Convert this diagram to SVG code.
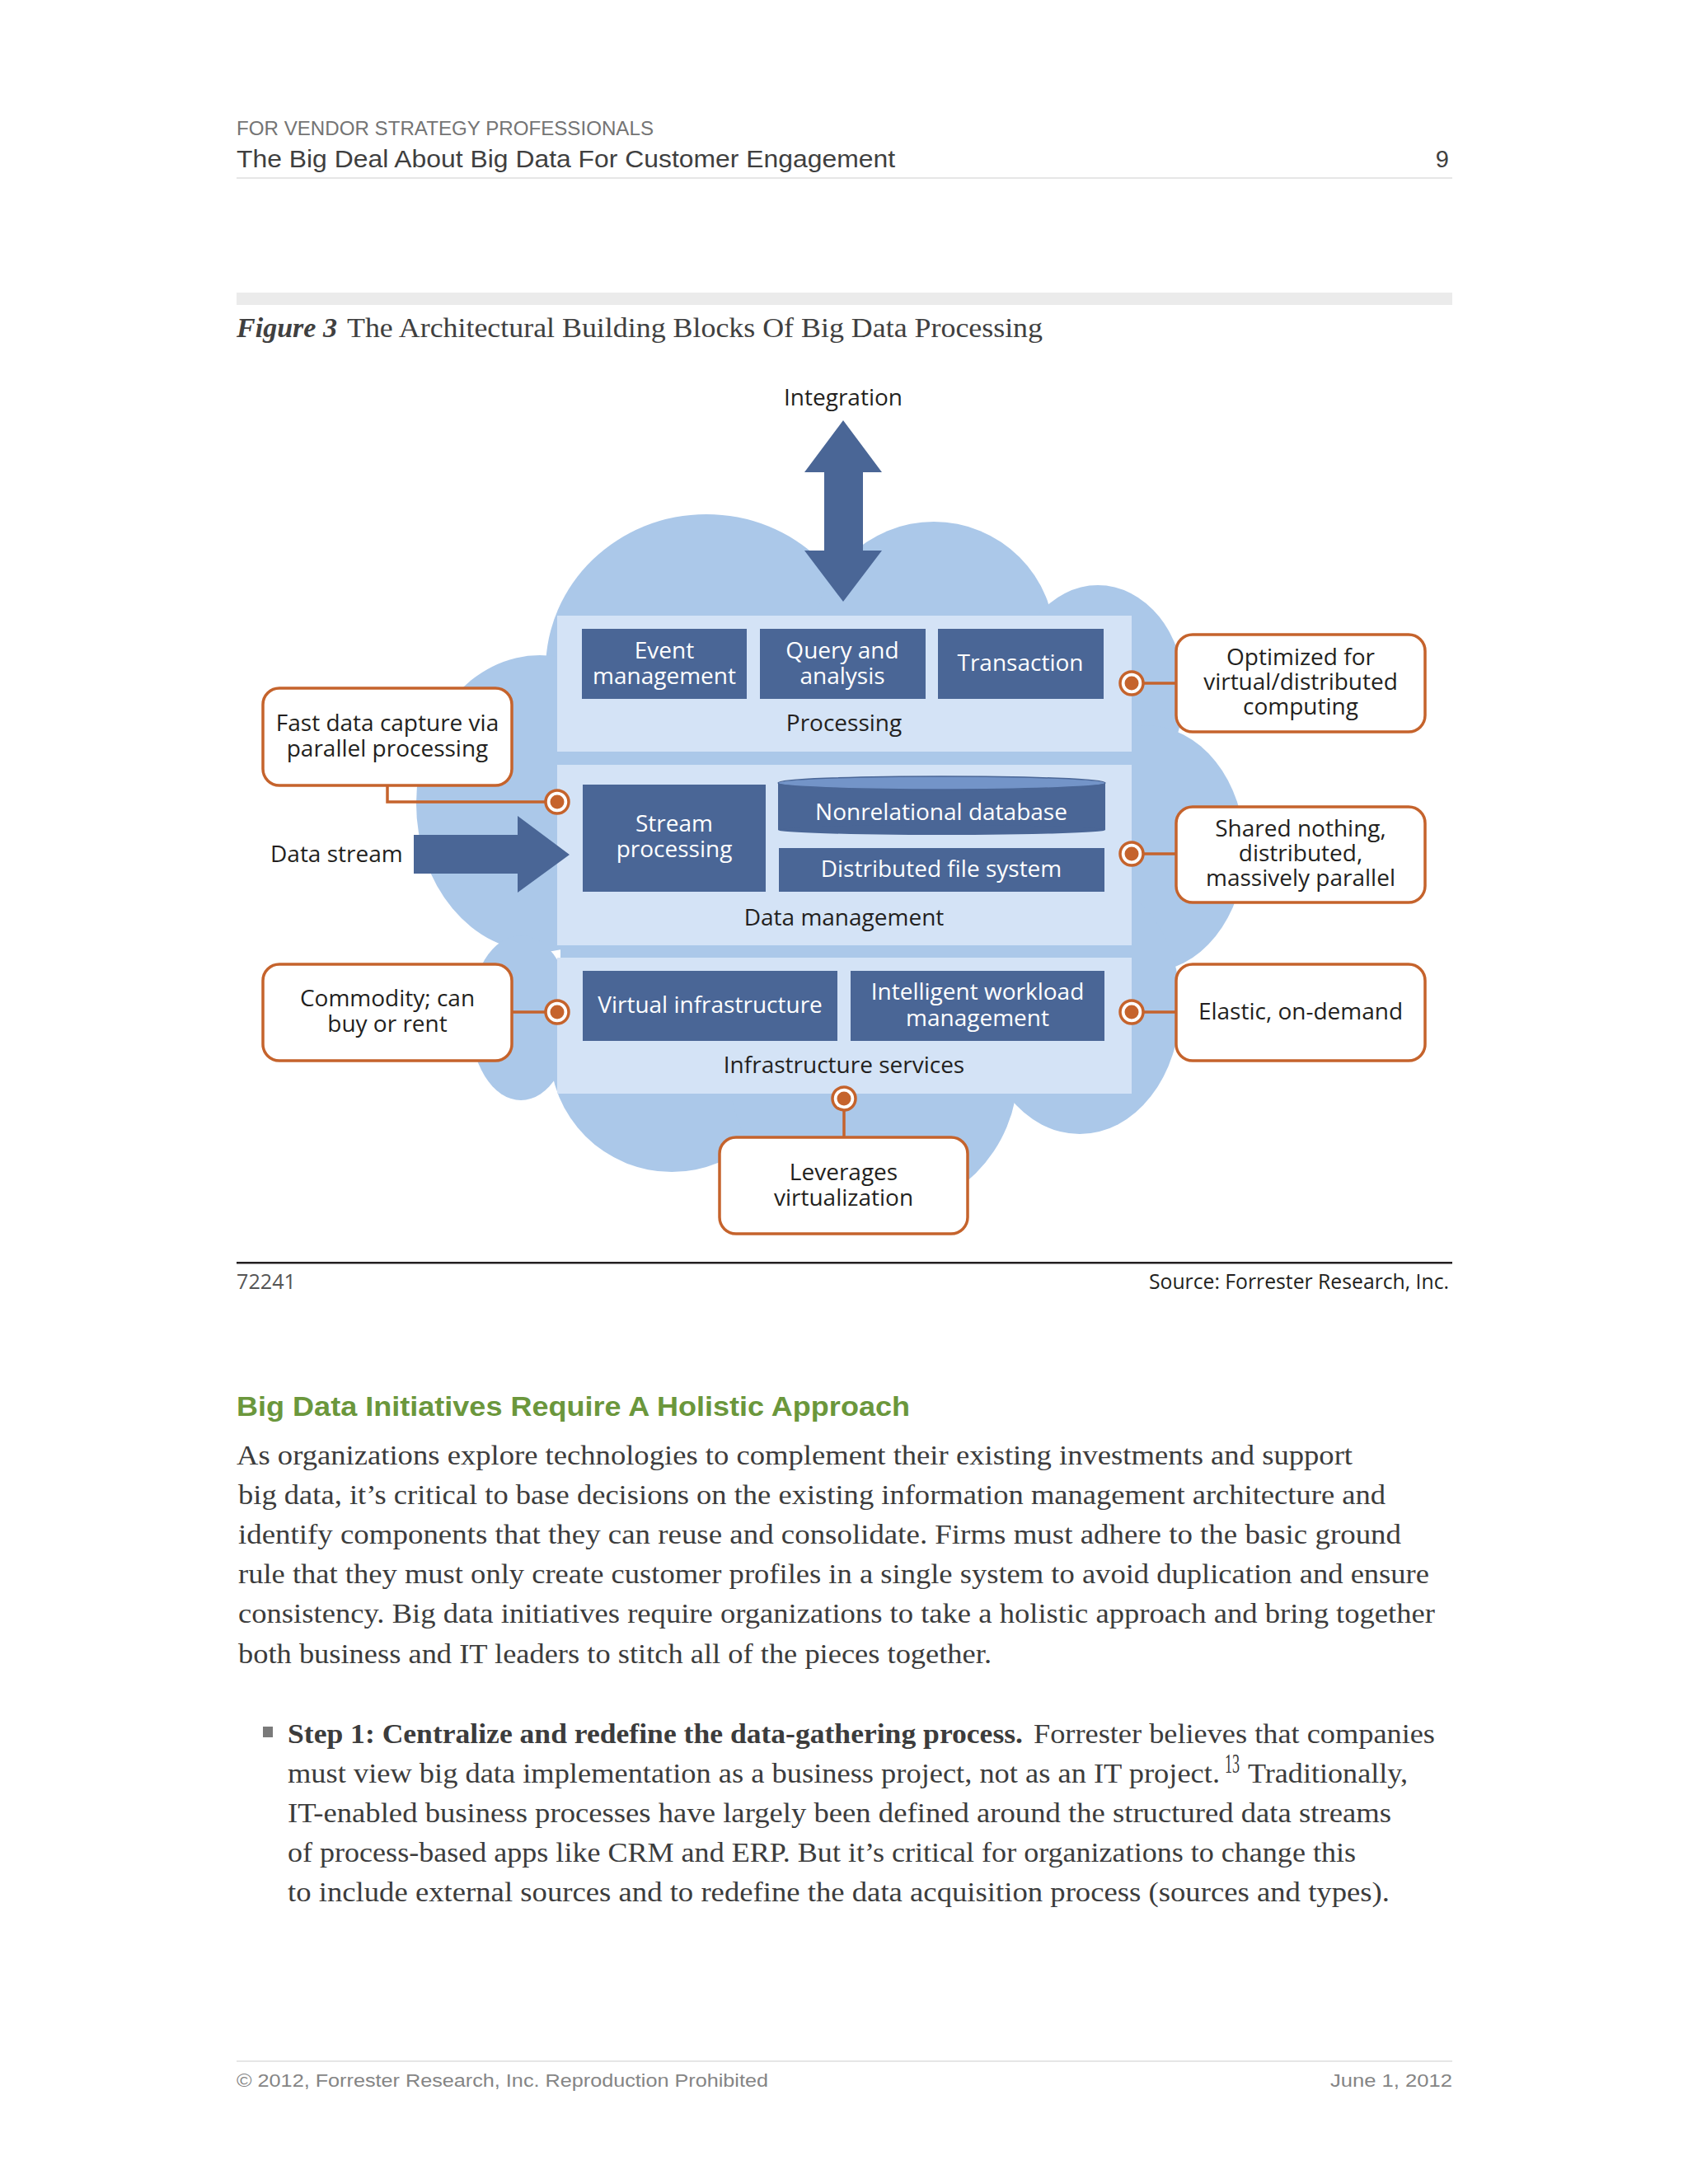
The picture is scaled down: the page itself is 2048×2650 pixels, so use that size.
<svg xmlns="http://www.w3.org/2000/svg" width="2048" height="2650" viewBox="0 0 2048 2650">
<style>
.dg{font-family:"Open Sans","DejaVu Sans",sans-serif;font-size:28px;fill:#231f20;text-anchor:middle}
.wt{fill:#ffffff}
.box{fill:#4a6696}
.panel{fill:#d4e3f6}
.cloud{fill:#abc8e9}
.call{fill:#ffffff;stroke:#c5632c;stroke-width:3.5}
.conn{fill:none;stroke:#c5632c;stroke-width:3.5}
.ring{fill:#ffffff;stroke:#c5632c;stroke-width:3.5}
.dot{fill:#c5632c}
.sans{font-family:"Liberation Sans",Arial,sans-serif}
.serif{font-family:"Liberation Serif","Times New Roman",serif}
.body{font-family:"Liberation Serif","Times New Roman",serif;font-size:34px;fill:#3c3c3c}
</style>
<defs>
<g id="pin"><circle r="14" class="ring"/><circle r="8.5" class="dot"/></g>
</defs>
<rect width="2048" height="2650" fill="#ffffff"/>

<g id="page-header">
<text class="sans" x="287" y="164" font-size="23" fill="#747474" textLength="506" lengthAdjust="spacingAndGlyphs">FOR VENDOR STRATEGY PROFESSIONALS</text>
<text class="sans" x="287" y="203" font-size="29" fill="#3f3f3f" textLength="799" lengthAdjust="spacingAndGlyphs">The Big Deal About Big Data For Customer Engagement</text>
<text class="sans" x="1758" y="203" font-size="29" fill="#3f3f3f" text-anchor="end">9</text>
<rect x="287" y="215" width="1475" height="2" fill="#e6e6e6"/>
<rect x="287" y="355" width="1475" height="15" fill="#ebebeb"/>
<text class="serif" x="287" y="409" font-size="34" fill="#404040" font-style="italic" font-weight="bold" textLength="122" lengthAdjust="spacingAndGlyphs">Figure 3</text>
<text class="serif" x="421" y="409" font-size="34" fill="#404040" textLength="844" lengthAdjust="spacingAndGlyphs">The Architectural Building Blocks Of Big Data Processing</text>
</g>

<g id="cloud">
<ellipse class="cloud" cx="857" cy="812" rx="195" ry="188"/>
<circle class="cloud" cx="1133" cy="780" r="147"/>
<ellipse class="cloud" cx="1332" cy="840" rx="105" ry="130"/>
<ellipse class="cloud" cx="1390" cy="1030" rx="120" ry="150"/>
<ellipse class="cloud" cx="1310" cy="1220" rx="122" ry="156"/>
<ellipse class="cloud" cx="655" cy="975" rx="150" ry="180"/>
<ellipse class="cloud" cx="632" cy="1235" rx="62" ry="100"/>
<circle class="cloud" cx="815" cy="1274" r="148"/>
<circle class="cloud" cx="1060" cy="1300" r="175"/>
<rect class="cloud" x="680" y="760" width="700" height="570"/>
</g>

<g id="integration">
<text class="dg" x="1023" y="492">Integration</text>
<polygon class="box" points="1023,510 1070,573 1047,573 1047,668 1070,668 1023,730 976,668 1000,668 1000,573 976,573"/>
</g>

<g id="processing">
<rect class="panel" x="676" y="747" width="697" height="165"/>
<text class="dg" x="1024" y="887">Processing</text>
</g>
<g id="event-management">
<rect class="box" x="706" y="763" width="200" height="85"/>
<text class="dg wt" x="806" y="799">Event</text>
<text class="dg wt" x="806" y="830">management</text>
</g>
<g id="query-analysis">
<rect class="box" x="922" y="763" width="201" height="85"/>
<text class="dg wt" x="1022" y="799">Query and</text>
<text class="dg wt" x="1022" y="830">analysis</text>
</g>
<g id="transaction">
<rect class="box" x="1138" y="763" width="201" height="85"/>
<text class="dg wt" x="1238" y="814">Transaction</text>
</g>

<g id="data-management">
<rect class="panel" x="676" y="928" width="697" height="219"/>
<text class="dg" x="1024" y="1123">Data management</text>
</g>
<g id="stream-processing">
<rect class="box" x="707" y="952" width="222" height="130"/>
<text class="dg wt" x="818" y="1009">Stream</text>
<text class="dg wt" x="818" y="1040">processing</text>
</g>
<g id="nonrelational-database">
<rect class="box" x="944" y="950" width="397" height="57"/>
<ellipse class="box" cx="1142.5" cy="1007" rx="198.5" ry="6"/>
<ellipse cx="1142.5" cy="950" rx="198.5" ry="8" fill="#7394c8" stroke="#4a6696" stroke-width="1.5"/>
<text class="dg wt" x="1142" y="995">Nonrelational database</text>
</g>
<g id="distributed-file-system">
<rect class="box" x="945" y="1029" width="395" height="53"/>
<text class="dg wt" x="1142" y="1064">Distributed file system</text>
</g>

<g id="infrastructure-services">
<rect class="panel" x="676" y="1162" width="697" height="165"/>
<text class="dg" x="1024" y="1302">Infrastructure services</text>
</g>
<g id="virtual-infrastructure">
<rect class="box" x="707" y="1178" width="309" height="85"/>
<text class="dg wt" x="861.5" y="1229">Virtual infrastructure</text>
</g>
<g id="intelligent-workload">
<rect class="box" x="1032" y="1178" width="308" height="85"/>
<text class="dg wt" x="1186" y="1213">Intelligent workload</text>
<text class="dg wt" x="1186" y="1245">management</text>
</g>

<g id="data-stream">
<text class="dg" x="328" y="1046" text-anchor="start" style="text-anchor:start">Data stream</text>
<polygon class="box" points="502,1013 628,1013 628,990 691,1037 628,1083 628,1060 502,1060"/>
</g>

<g id="connectors">
<path class="conn" d="M470,953 V973 H662"/>
<line class="conn" x1="621" y1="1228" x2="662" y2="1228"/>
<line class="conn" x1="1387" y1="829" x2="1427" y2="829"/>
<line class="conn" x1="1387" y1="1036" x2="1427" y2="1036"/>
<line class="conn" x1="1387" y1="1228" x2="1427" y2="1228"/>
<line class="conn" x1="1024" y1="1347" x2="1024" y2="1380"/>
<use href="#pin" x="676" y="973"/>
<use href="#pin" x="676" y="1228"/>
<use href="#pin" x="1373" y="829"/>
<use href="#pin" x="1373" y="1036"/>
<use href="#pin" x="1373" y="1228"/>
<use href="#pin" x="1024" y="1333"/>
</g>

<g id="fast-data-capture">
<rect class="call" x="319" y="835" width="302" height="118" rx="20"/>
<text class="dg" x="470" y="887">Fast data capture via</text>
<text class="dg" x="470" y="918">parallel processing</text>
</g>
<g id="commodity">
<rect class="call" x="319" y="1170" width="302" height="117" rx="20"/>
<text class="dg" x="470" y="1221">Commodity; can</text>
<text class="dg" x="470" y="1252">buy or rent</text>
</g>
<g id="optimized">
<rect class="call" x="1427" y="770" width="302" height="118" rx="20"/>
<text class="dg" x="1578" y="807">Optimized for</text>
<text class="dg" x="1578" y="837">virtual/distributed</text>
<text class="dg" x="1578" y="867">computing</text>
</g>
<g id="shared-nothing">
<rect class="call" x="1427" y="979" width="302" height="116" rx="20"/>
<text class="dg" x="1578" y="1015">Shared nothing,</text>
<text class="dg" x="1578" y="1045">distributed,</text>
<text class="dg" x="1578" y="1075">massively parallel</text>
</g>
<g id="elastic">
<rect class="call" x="1427" y="1170" width="302" height="117" rx="20"/>
<text class="dg" x="1578" y="1237">Elastic, on-demand</text>
</g>
<g id="leverages">
<rect class="call" x="873" y="1380" width="301" height="117" rx="20"/>
<text class="dg" x="1023.5" y="1432">Leverages</text>
<text class="dg" x="1023.5" y="1463">virtualization</text>
</g>

<g id="figure-footer">
<rect x="287" y="1531" width="1475" height="2.5" fill="#231f20"/>
<text x="287" y="1564" font-family="Open Sans, DejaVu Sans, sans-serif" font-size="25" fill="#555555" textLength="72" lengthAdjust="spacingAndGlyphs">72241</text>
<text x="1394" y="1564" font-family="Open Sans, DejaVu Sans, sans-serif" font-size="25" fill="#231f20" textLength="364" lengthAdjust="spacingAndGlyphs">Source: Forrester Research, Inc.</text>
</g>

<g id="article">
<text class="sans" x="287" y="1718" font-size="33" font-weight="bold" fill="#6b973c" textLength="817" lengthAdjust="spacingAndGlyphs">Big Data Initiatives Require A Holistic Approach</text>
<text class="body" x="287" y="1777" textLength="1354" lengthAdjust="spacingAndGlyphs">As organizations explore technologies to complement their existing investments and support</text>
<text class="body" x="289" y="1825" textLength="1392" lengthAdjust="spacingAndGlyphs">big data, it’s critical to base decisions on the existing information management architecture and</text>
<text class="body" x="289" y="1873" textLength="1411" lengthAdjust="spacingAndGlyphs">identify components that they can reuse and consolidate. Firms must adhere to the basic ground</text>
<text class="body" x="289" y="1921" textLength="1445" lengthAdjust="spacingAndGlyphs">rule that they must only create customer profiles in a single system to avoid duplication and ensure</text>
<text class="body" x="289" y="1969" textLength="1452" lengthAdjust="spacingAndGlyphs">consistency. Big data initiatives require organizations to take a holistic approach and bring together</text>
<text class="body" x="289" y="2018" textLength="914" lengthAdjust="spacingAndGlyphs">both business and IT leaders to stitch all of the pieces together.</text>

<rect x="319" y="2095" width="12" height="13" fill="#7a7a7a"/>
<text class="body" x="349" y="2115" font-weight="bold" textLength="892" lengthAdjust="spacingAndGlyphs">Step 1: Centralize and redefine the data-gathering process.</text>
<text class="body" x="1254" y="2115" textLength="487" lengthAdjust="spacingAndGlyphs">Forrester believes that companies</text>
<text class="body" x="349" y="2163" textLength="1131" lengthAdjust="spacingAndGlyphs">must view big data implementation as a business project, not as an IT project.</text>
<text class="body" x="1486" y="2151" font-size="19" textLength="18" lengthAdjust="spacingAndGlyphs">13</text>
<text class="body" x="1514" y="2163" textLength="194" lengthAdjust="spacingAndGlyphs">Traditionally,</text>
<text class="body" x="349" y="2211" textLength="1339" lengthAdjust="spacingAndGlyphs">IT-enabled business processes have largely been defined around the structured data streams</text>
<text class="body" x="349" y="2259" textLength="1296" lengthAdjust="spacingAndGlyphs">of process-based apps like CRM and ERP. But it’s critical for organizations to change this</text>
<text class="body" x="349" y="2307" textLength="1337" lengthAdjust="spacingAndGlyphs">to include external sources and to redefine the data acquisition process (sources and types).</text>
</g>

<g id="page-footer">
<rect x="287" y="2500" width="1475" height="2" fill="#e6e6e6"/>
<text class="sans" x="287" y="2532" font-size="22" fill="#858585" textLength="645" lengthAdjust="spacingAndGlyphs">© 2012, Forrester Research, Inc. Reproduction Prohibited</text>
<text class="sans" x="1762" y="2532" font-size="22" fill="#858585" text-anchor="end" textLength="148" lengthAdjust="spacingAndGlyphs">June 1, 2012</text>
</g>
</svg>
